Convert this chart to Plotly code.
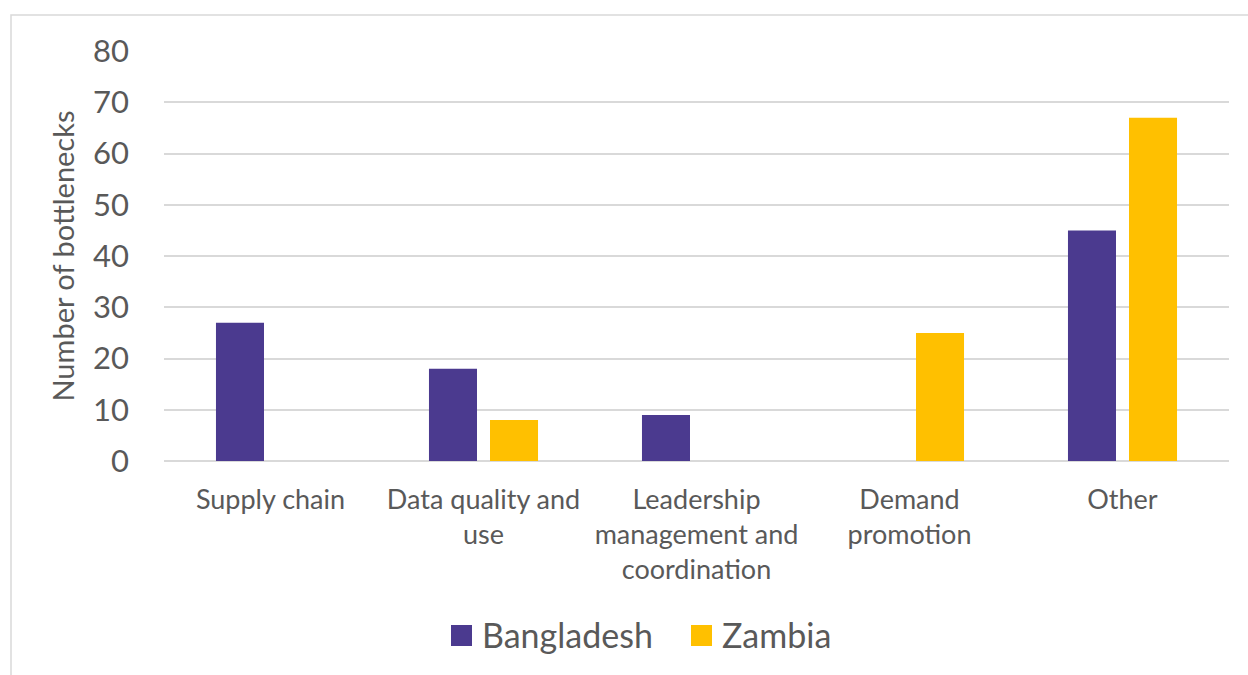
import plotly.graph_objects as go

# Bottleneck counts by health-system area
categories = [
    "Supply chain",
    "Data quality and<br>use",
    "Leadership<br>management and<br>coordination",
    "Demand<br>promotion",
    "Other",
]
bangladesh = [27, 18, 9, 0, 45]
zambia = [0, 8, 0, 25, 67]
series_names = ["Bangladesh", "Zambia"]

y_ticks = [0, 10, 20, 30, 40, 50, 60, 70, 80]

PURPLE = "#4B3A8F"
GOLD = "#FFC000"
TEXT = "#595959"
GRID = "#D9D9D9"
FONT = "Lato, Open Sans, sans-serif"

W, H = 1248, 675
L, R, T, B = 164, 19, 51, 214
pw, ph = W - L - R, H - T - B


def px_x(x):
    return (x - L) / pw


def px_y(y):
    return (H - B - y) / ph


fig = go.Figure()
fig.add_trace(go.Bar(name=series_names[0], x=categories, y=bangladesh,
                     marker=dict(color=PURPLE, line=dict(width=0))))
fig.add_trace(go.Bar(name=series_names[1], x=categories, y=zambia,
                     marker=dict(color=GOLD, line=dict(width=0))))

# legend keys drawn as squares with text labels beneath the plot
legend_items = [(series_names[0], PURPLE, 451), (series_names[1], GOLD, 691)]
shapes = [dict(type="rect", xref="paper", yref="paper",
               x0=px_x(11), x1=px_x(1260), y0=px_y(700), y1=px_y(15),
               line=dict(color=GRID, width=1.5), fillcolor="rgba(0,0,0,0)",
               layer="below")]
annotations = []
for name, color, x0 in legend_items:
    shapes.append(dict(type="rect", xref="paper", yref="paper",
                       x0=px_x(x0), x1=px_x(x0 + 21),
                       y0=px_y(646), y1=px_y(625),
                       fillcolor=color, line=dict(width=0)))
    annotations.append(dict(text=name, xref="paper", yref="paper",
                            x=px_x(x0 + 29), y=px_y(634),
                            xanchor="left", yanchor="middle", showarrow=False,
                            font=dict(size=34, color=TEXT, family=FONT)))

fig.update_layout(
    width=W, height=H,
    margin=dict(l=L, r=R, t=T, b=B, autoexpand=False),
    paper_bgcolor="white", plot_bgcolor="white",
    barmode="group", bargap=0.427, bargroupgap=0.213,
    font=dict(family=FONT, color=TEXT),
    showlegend=False,
    xaxis=dict(showgrid=False, showline=False, zeroline=False,
               tickfont=dict(size=27, color=TEXT, family=FONT),
               ticks="", ticklabelstandoff=20, tickangle=0),
    yaxis=dict(range=[0, 80], tickvals=y_ticks,
               showgrid=True, gridcolor=GRID, gridwidth=1.5,
               zeroline=True, zerolinecolor=GRID, zerolinewidth=1.5,
               showline=False, ticks="",
               tickfont=dict(size=31, color=TEXT, family=FONT),
               ticklabelstandoff=34,
               title=dict(text="Number of bottlenecks",
                          font=dict(size=29, color=TEXT, family=FONT),
                          standoff=9)),
    shapes=shapes,
    annotations=annotations,
)

fig.write_html("out.html")
